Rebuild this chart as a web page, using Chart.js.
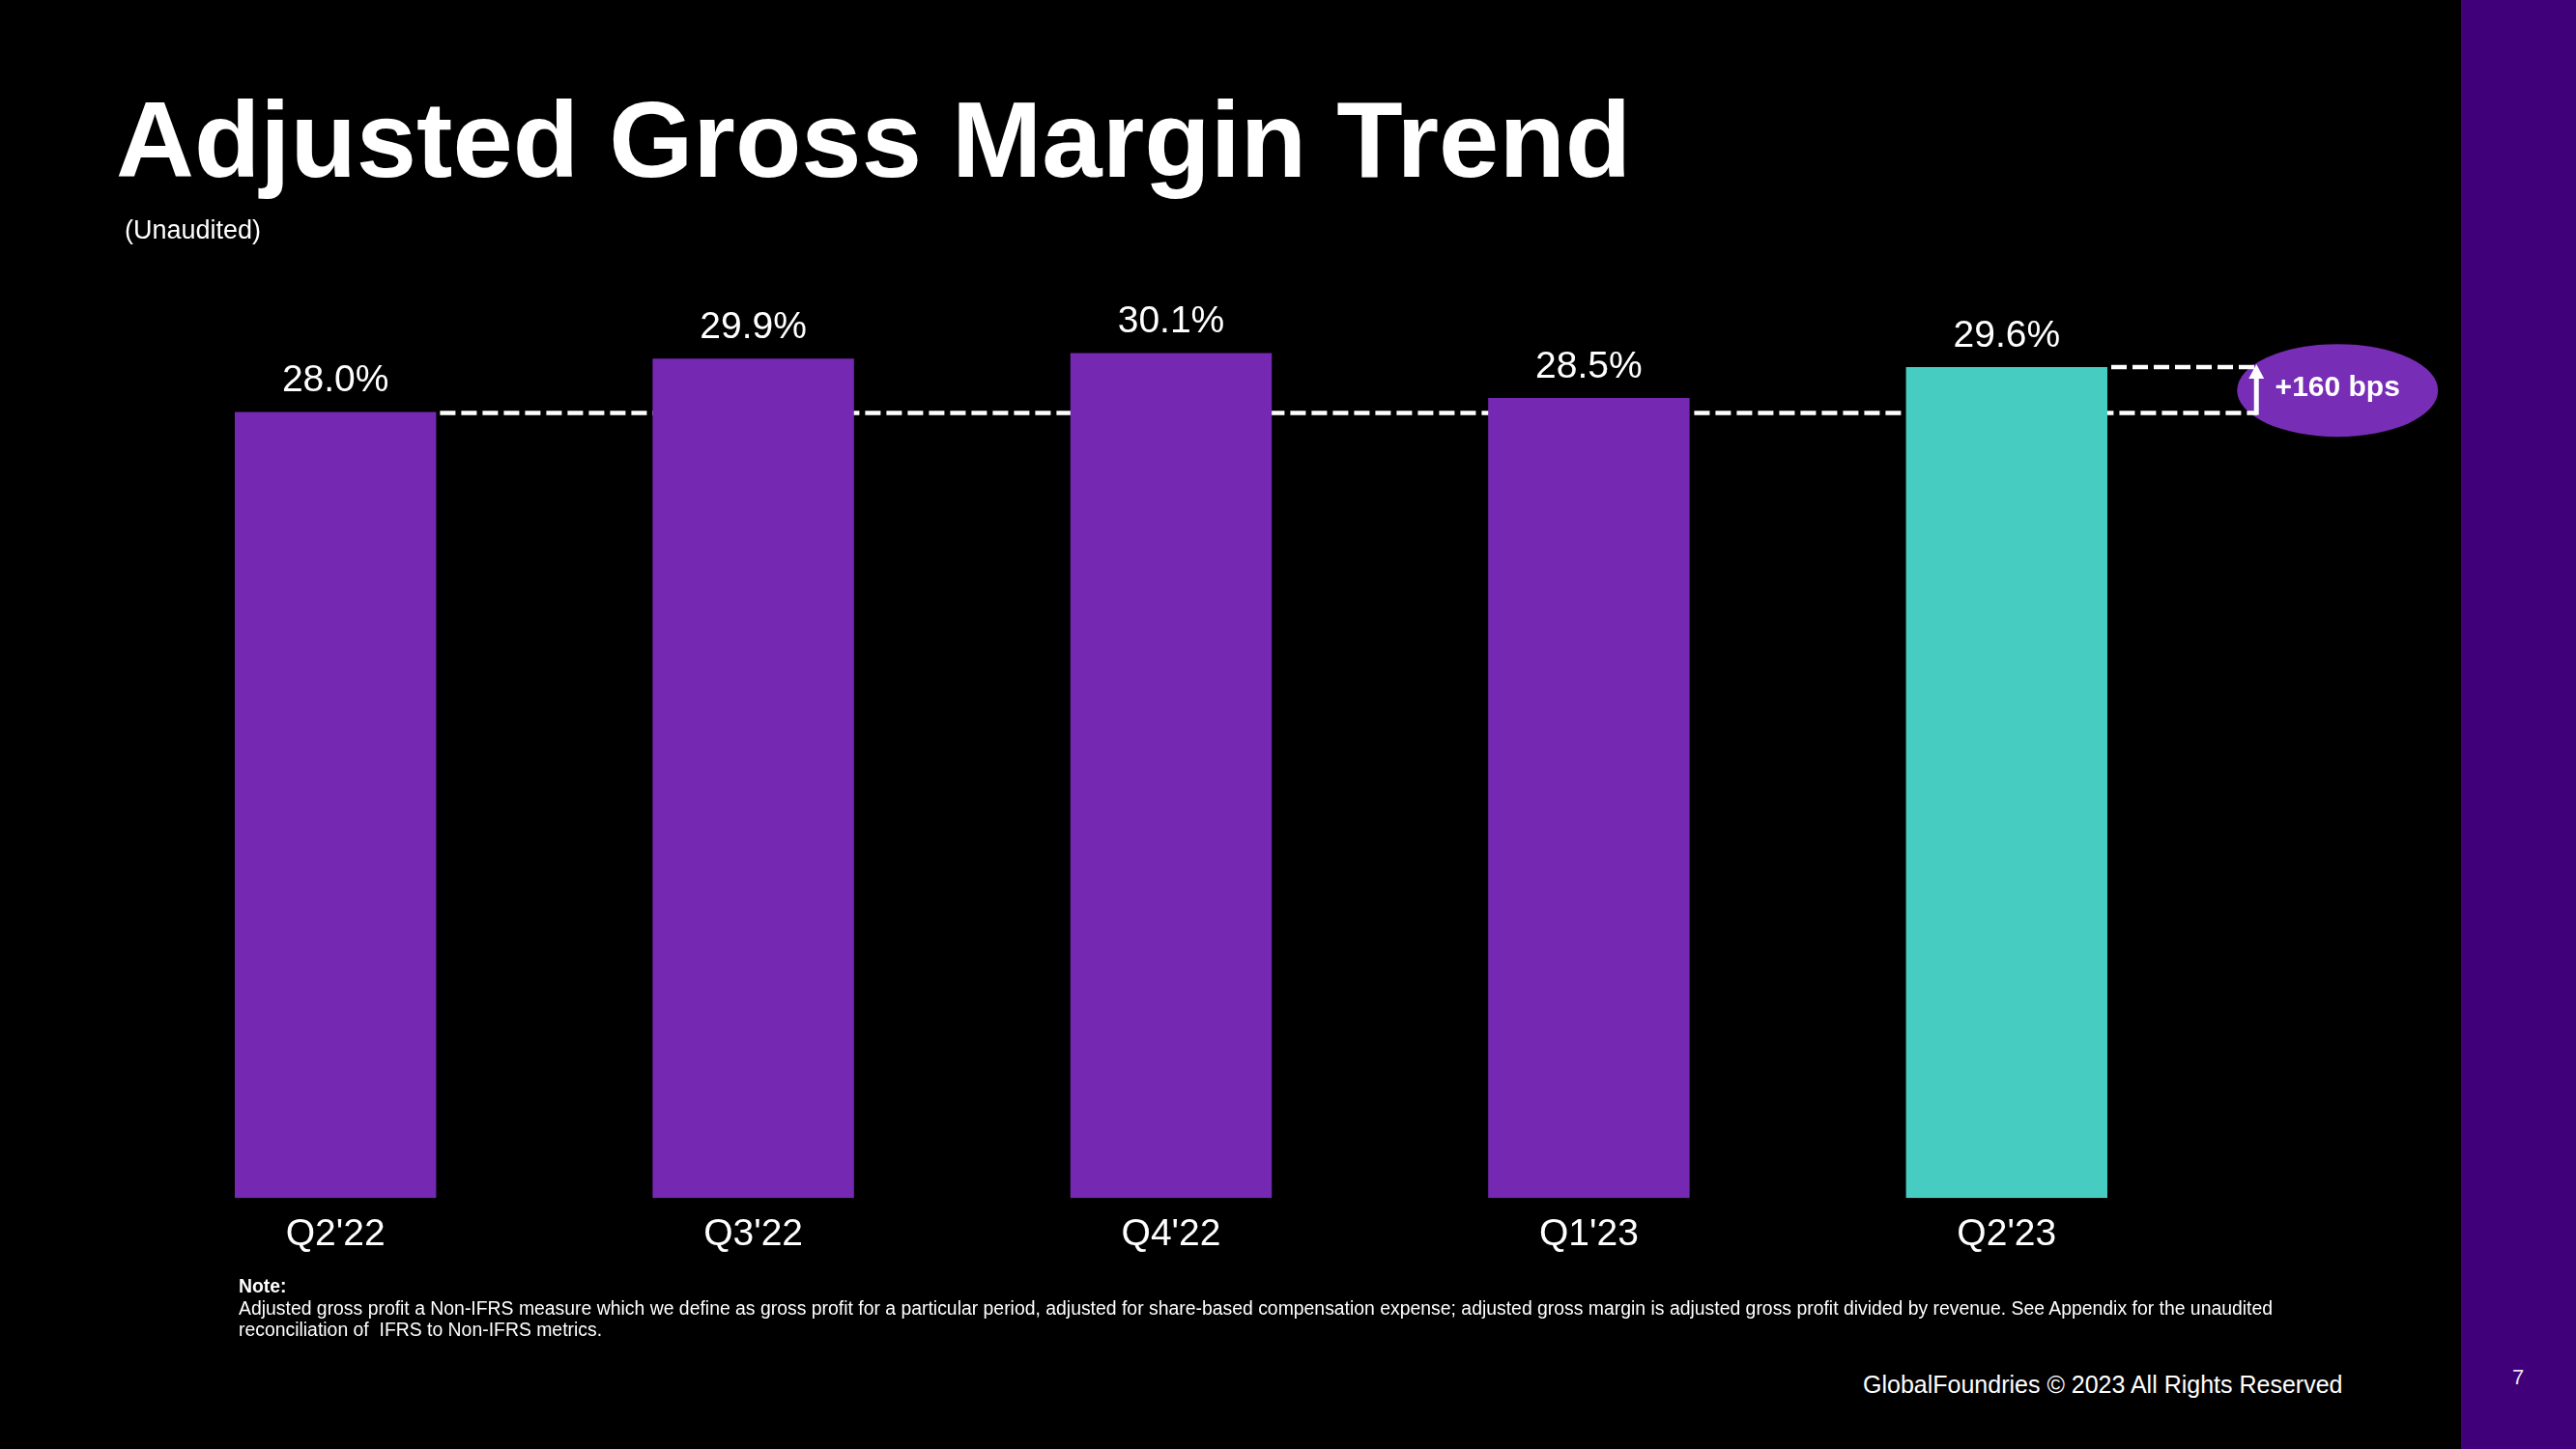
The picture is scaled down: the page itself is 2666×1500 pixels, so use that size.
<!DOCTYPE html>
<html>
<head>
<meta charset="utf-8">
<script src="https://cdn.jsdelivr.net/npm/chart.js@4/dist/chart.umd.min.js"></script>
<style>
  html, body { margin:0; padding:0; background:#000; }
  body { width:2666px; height:1500px; position:relative; overflow:hidden; font-family:"Liberation Sans", Arial, sans-serif; color:#fff; }
  #side { position:absolute; left:2547px; top:0; width:119px; height:1500px; background:#40007a; }
  #chartBox { position:absolute; left:0; top:0; width:2547px; height:1326px; }
  .t { position:absolute; white-space:nowrap; line-height:1; }
  #title { left:120px; top:89px; font-size:112px; font-weight:bold; }
  #sub { left:129px; top:225px; font-size:27px; }
  #note { left:247px; top:1320px; font-size:19.4px; line-height:22.5px; }
  #footer { left:1928px; top:1421px; font-size:25px; }
  #page { left:2600px; top:1415px; font-size:22px; color:#e8e0f0; }
</style>
</head>
<body>
<div id="side"></div>
<div id="chartBox"><canvas id="c"></canvas></div>
<div class="t" id="title">Adjusted Gross Margin Trend</div>
<div class="t" id="sub">(Unaudited)</div>
<div class="t" id="note"><b>Note:</b><br>Adjusted gross profit a Non-IFRS measure which we define as gross profit for a particular period, adjusted for share-based compensation expense; adjusted gross margin is adjusted gross profit divided by revenue. See Appendix for the unaudited<br>reconciliation of &nbsp;IFRS to Non-IFRS metrics.</div>
<div class="t" id="footer">GlobalFoundries © 2023 All Rights Reserved</div>
<div class="t" id="page">7</div>
<script>
const categories = ["Q2'22", "Q3'22", "Q4'22", "Q1'23", "Q2'23"];
const marginValues = [28.0, 29.9, 30.1, 28.5, 29.6];
const valueLabels = ["28.0%", "29.9%", "30.1%", "28.5%", "29.6%"];
const barColors = ["#7529b3", "#7529b3", "#7529b3", "#7529b3", "#47ccc2"];
const baselineIndex = 0;
const latestIndex = 4;
const changeLabel = "+160 bps";

const FONT = '"Liberation Sans", Arial, sans-serif';

const annotate = {
  id: 'annotate',
  beforeDatasetsDraw(chart) {
    const ctx = chart.ctx;
    const xs = chart.scales.x, ys = chart.scales.y;
    const meta = chart.getDatasetMeta(0);
    const b0 = meta.data[baselineIndex], bN = meta.data[latestIndex];
    const step = xs.getPixelForValue(latestIndex) - xs.getPixelForValue(latestIndex - 1);
    const xEnd = xs.getPixelForValue(latestIndex) + 0.6 * step;
    const yBase = ys.getPixelForValue(marginValues[baselineIndex]);
    const yLatest = ys.getPixelForValue(marginValues[latestIndex]);
    const yMid = ys.getPixelForValue((marginValues[baselineIndex] + marginValues[latestIndex]) / 2);
    ctx.save();
    // ellipse
    ctx.fillStyle = '#772db5';
    ctx.beginPath();
    ctx.ellipse(xEnd + 83, yMid + 1, 104, 48, 0, 0, Math.PI * 2);
    ctx.fill();
    // dashed lines
    ctx.strokeStyle = '#ffffff';
    ctx.lineWidth = 4.5;
    ctx.setLineDash([16, 6]);
    ctx.beginPath();
    ctx.moveTo(b0.x + b0.width / 2 + 4, yBase + 1);
    ctx.lineTo(xEnd, yBase + 1);
    ctx.stroke();
    ctx.beginPath();
    ctx.moveTo(bN.x + bN.width / 2 + 4, yLatest);
    ctx.lineTo(xEnd, yLatest);
    ctx.stroke();
    // arrow
    ctx.setLineDash([]);
    ctx.lineWidth = 5;
    ctx.beginPath();
    ctx.moveTo(xEnd - 1, yBase + 3);
    ctx.lineTo(xEnd - 1, yLatest + 10);
    ctx.stroke();
    ctx.fillStyle = '#ffffff';
    ctx.beginPath();
    ctx.moveTo(xEnd - 1, yLatest - 3);
    ctx.lineTo(xEnd - 9, yLatest + 12);
    ctx.lineTo(xEnd + 7, yLatest + 12);
    ctx.closePath();
    ctx.fill();
    // ellipse text
    ctx.font = 'bold 30px ' + FONT;
    ctx.textAlign = 'center';
    ctx.textBaseline = 'middle';
    ctx.fillText(changeLabel, xEnd + 83, yMid - 1);
    ctx.restore();
  },
  afterDatasetsDraw(chart) {
    const ctx = chart.ctx;
    const meta = chart.getDatasetMeta(0);
    ctx.save();
    ctx.fillStyle = '#ffffff';
    ctx.font = '39px ' + FONT;
    ctx.textAlign = 'center';
    ctx.textBaseline = 'middle';
    meta.data.forEach((bar, i) => {
      ctx.fillText(valueLabels[i], bar.x, bar.y - 32);
    });
    ctx.restore();
  }
};

new Chart(document.getElementById('c'), {
  type: 'bar',
  data: {
    labels: categories,
    datasets: [{
      data: marginValues,
      backgroundColor: barColors,
      borderWidth: 0,
      categoryPercentage: 1.0,
      barPercentage: 0.482
    }]
  },
  options: {
    responsive: true,
    maintainAspectRatio: false,
    animation: false,
    devicePixelRatio: 1,
    layout: { padding: { left: 131, right: 254, top: 223, bottom: 9 } },
    plugins: { legend: { display: false }, tooltip: { enabled: false } },
    scales: {
      x: {
        grid: { display: false, drawTicks: false },
        border: { display: false },
        ticks: { color: '#ffffff', font: { family: FONT, size: 39 }, padding: 15 }
      },
      y: {
        display: false,
        min: 0,
        max: 35
      }
    }
  },
  plugins: [annotate]
});
</script>
</body>
</html>
